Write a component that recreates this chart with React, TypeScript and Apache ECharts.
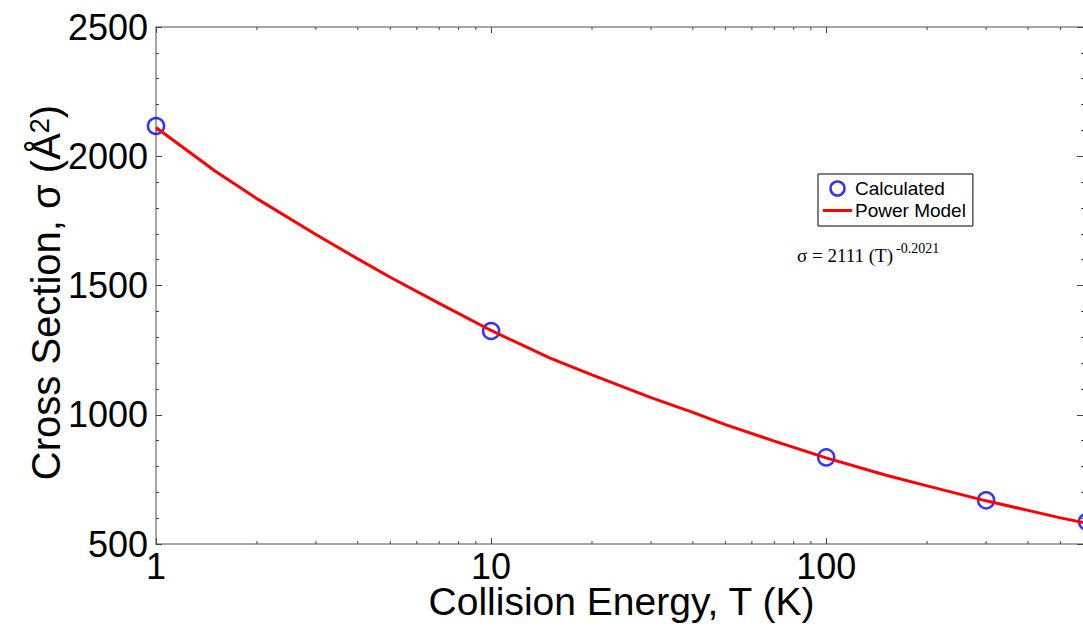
import React, { useEffect, useRef } from "react";
import * as echarts from "echarts";

// Calculated cross sections at each collision energy
const calcTemps = [1, 10, 100, 300, 600];
const calcSigma = [2117, 1324, 835, 669, 586];

// Power-model curve σ = 2111 T^-0.2021, sampled along the energy axis
const fitTemps = [1, 1.5, 2, 3, 4, 5, 7, 10, 15, 20, 30, 40, 50, 70, 100, 150, 200, 300, 400, 500, 600];
const fitSigma = [2111, 1943, 1836, 1697, 1603, 1532, 1431, 1326, 1219, 1154, 1066, 1009, 962, 898, 833, 767, 725, 667, 630, 601, 580];

// Log-axis minor ticks (2..9 per decade)
const xMinorTicks = [2, 3, 4, 5, 6, 7, 8, 9, 20, 30, 40, 50, 60, 70, 80, 90, 200, 300, 400, 500];

const xMin = 1;
const xMax = 600;
const yMin = 500;
const yMax = 2500;
const yStep = 500;

const SANS = "'Liberation Sans', Arial, sans-serif";
const SERIF = "'Liberation Serif', 'Times New Roman', serif";
const FRAME = "#888888";
const TICK = "#444444";

export default function App() {
  const ref = useRef<HTMLDivElement>(null);

  useEffect(() => {
    if (!ref.current) return;
    const chart = echarts.init(ref.current, null, { renderer: "svg" });

    const option: any = {
      animation: false,
      backgroundColor: "#ffffff",
      grid: { left: 156, top: 27, right: -4, bottom: 83, outerBoundsMode: "none", containLabel: false },
      legend: {
        orient: "vertical",
        left: 818,
        top: 174,
        padding: [5, 7, 6, 5],
        itemGap: 3,
        itemWidth: 29,
        itemHeight: 14,
        selectedMode: false,
        backgroundColor: "#ffffff",
        borderColor: "#000000",
        borderWidth: 1,
        borderRadius: 0,
        textStyle: { fontFamily: SANS, fontSize: 19, color: "#000000", padding: [0, 0, 0, -2] },
        data: [
          {
            name: "Calculated",
            icon: "circle",
            itemStyle: { color: "transparent", borderColor: "#0000ff", borderWidth: 2.5 },
          },
          {
            name: "Power Model",
            icon: "path://M0,0 L29,0 L29,3 L0,3 Z",
            itemStyle: { color: "#ff0000", borderWidth: 0 },
          },
        ],
      },
      xAxis: [
        {
          type: "log",
          logBase: 10,
          min: xMin,
          max: xMax,
          name: "Collision Energy, T (K)",
          nameLocation: "middle",
          nameGap: 42,
          nameMoveOverlap: false,
          nameTextStyle: { fontFamily: SANS, fontSize: 39, lineHeight: 30, color: "#000000" },
          axisLine: { show: true, lineStyle: { color: FRAME, width: 1.5 } },
          axisTick: { show: true, inside: true, length: 6, lineStyle: { color: TICK, width: 1 } },
          axisLabel: {
            fontFamily: SANS,
            fontSize: 36,
            lineHeight: 28,
            color: "#000000",
            margin: 8,
            showMaxLabel: false,
          },
          splitLine: { show: false },
        },
        {
          type: "log",
          logBase: 10,
          min: xMin,
          max: xMax,
          position: "top",
          axisLine: { show: true, lineStyle: { color: FRAME, width: 1.5 } },
          axisTick: { show: true, inside: true, length: 6, lineStyle: { color: TICK, width: 1 } },
          axisLabel: { show: false },
          splitLine: { show: false },
        },
      ],
      yAxis: [
        {
          type: "value",
          min: yMin,
          max: yMax,
          interval: yStep,
          name: "Cross Section, σ (Å{sup|2})",
          nameLocation: "middle",
          nameRotate: 90,
          nameGap: 90,
          nameMoveOverlap: false,
          nameTextStyle: {
            fontFamily: SANS,
            fontSize: 40,
            color: "#000000",
            padding: [0, 14, 0, 0],
            rich: {
              sup: { fontFamily: SANS, fontSize: 27, color: "#000000", verticalAlign: "top" },
            },
          },
          axisLine: { show: true, lineStyle: { color: FRAME, width: 1.5 } },
          axisTick: { show: true, inside: true, length: 6, lineStyle: { color: TICK, width: 1 } },
          minorTick: { show: true, splitNumber: 5, length: 3, lineStyle: { color: TICK, width: 1 } },
          axisLabel: {
            fontFamily: SANS,
            fontSize: 36,
            color: "#000000",
            margin: 8,
            formatter: (v: number) => String(v),
          },
          splitLine: { show: false },
        },
        {
          type: "value",
          min: yMin,
          max: yMax,
          interval: yStep,
          position: "right",
          axisLine: { show: true, lineStyle: { color: FRAME, width: 1.5 } },
          axisTick: { show: true, inside: true, length: 10, lineStyle: { color: TICK, width: 1 } },
          minorTick: { show: true, splitNumber: 5, length: 6, lineStyle: { color: TICK, width: 1 } },
          axisLabel: { show: false },
          splitLine: { show: false },
        },
      ],
      graphic: [
        {
          type: "text",
          left: 797,
          top: 246,
          style: {
            text: "σ = 2111 (T)",
            font: `19px ${SERIF}`,
            fill: "#000000",
          },
        },
        {
          type: "text",
          left: 896,
          top: 241,
          style: {
            text: "-0.2021",
            font: `14px ${SERIF}`,
            fill: "#000000",
          },
        },
      ],
      series: [
        {
          name: "Calculated",
          type: "scatter",
          xAxisIndex: 0,
          yAxisIndex: 0,
          symbol: "circle",
          symbolSize: 16,
          itemStyle: { color: "transparent", borderColor: "#0000ff", borderWidth: 2.5 },
          data: calcTemps.map((t, i) => [t, calcSigma[i]]),
          z: 2,
        },
        {
          name: "Power Model",
          type: "line",
          xAxisIndex: 0,
          yAxisIndex: 0,
          symbol: "none",
          smooth: false,
          lineStyle: { color: "#ff0000", width: 3 },
          itemStyle: { color: "#ff0000" },
          data: fitTemps.map((t, i) => [t, fitSigma[i]]),
          z: 3,
        },
        {
          name: "minorTicks",
          type: "custom",
          xAxisIndex: 0,
          yAxisIndex: 0,
          silent: true,
          clip: false,
          data: xMinorTicks.map((t) => [t, yMin]),
          renderItem: (_params: any, api: any) => {
            const v = api.value(0);
            const b = api.coord([v, yMin]);
            const t = api.coord([v, yMax]);
            const style = { stroke: TICK, lineWidth: 1 };
            return {
              type: "group",
              children: [
                { type: "line", shape: { x1: b[0], y1: b[1], x2: b[0], y2: b[1] - 3 }, style },
                { type: "line", shape: { x1: t[0], y1: t[1], x2: t[0], y2: t[1] + 3 }, style },
              ],
            };
          },
          z: 1,
        },
      ],
    };

    chart.setOption(option);
    return () => chart.dispose();
  }, []);

  return (
    <div
      ref={ref}
      style={{ position: "absolute", left: 0, top: 0, width: 1083, height: 627 }}
    />
  );
}
